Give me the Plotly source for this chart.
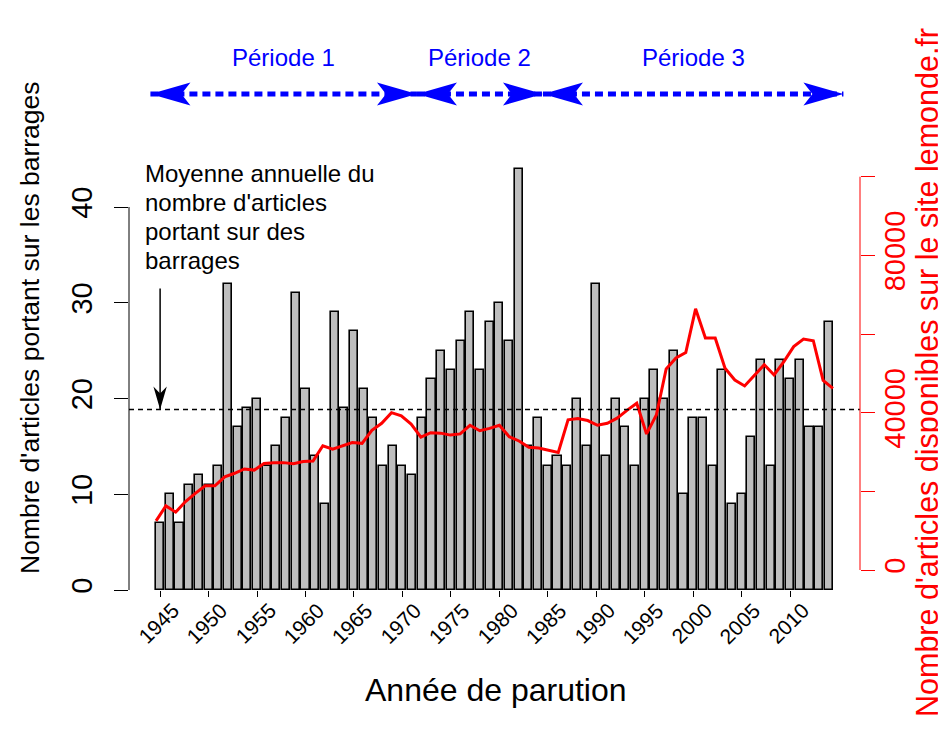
import numpy as np
import plotly.graph_objects as go

# ---------------- data ----------------
years = list(range(1945, 2015))
articles_barrages = [7, 10, 7, 11, 12, 11, 13, 32, 17, 19,
                     20, 13, 15, 18, 31, 21, 14, 9, 29, 19,
                     27, 21, 18, 13, 15, 13, 12, 18, 22, 25,
                     23, 26, 29, 23, 28, 30, 26, 44, 15, 18,
                     13, 14, 13, 20, 15, 32, 14, 20, 17, 13,
                     20, 23, 20, 25, 10, 18, 18, 13, 23, 9,
                     10, 16, 24, 13, 24, 22, 24, 17, 17, 28]
articles_lemonde = [12500, 16300, 14700, 17400, 19500, 21400, 21400, 23700, 24600, 25700,
                    25400, 27100, 27300, 27300, 27000, 27600, 27700, 31600, 30700, 31600,
                    32400, 32200, 35500, 37300, 40000, 39200, 37100, 33800, 34900, 34800,
                    34300, 34600, 36800, 35400, 36000, 36800, 33900, 32800, 31200, 31000,
                    30500, 29900, 38200, 38500, 38000, 36800, 37300, 38600, 40600, 42400,
                    34600, 39400, 51100, 53900, 55300, 66400, 59000, 59000, 51300, 48300,
                    46800, 49600, 52200, 49600, 53000, 56800, 58700, 58300, 48200, 46200]
xtick_years = list(range(1945, 2011, 5))
ytick_left = [0, 10, 20, 30, 40]
ytick_right = [0, 20000, 40000, 60000, 80000, 100000]
ytick_right_labels = ["0", "", "40000", "", "80000", ""]
period_labels = ["Période 1", "Période 2", "Période 3"]
period_start = [1944, 1971.5, 1984.5]
period_end = [1971.5, 1984.5, 2015.5]
note_lines = ["Moyenne annuelle du", "nombre d'articles", "portant sur des", "barrages"]
arrow_from = 31.5
mean_val = float(np.mean(articles_barrages))

FONT = "Liberation Sans, Arial, sans-serif"
OFF = 8  # page body margin
W, H = 946 - OFF, 731 - OFF
PL, PR, PT, PB = 129, 860, 152, 590          # plot region in page pixels
ML, MT = PL - OFF, PT - OFF
MR, MB = W - (PR - OFF), H - (PB - OFF)
PW, PH = PR - PL, PB - PT


def px_x(p):
    return (p - PL) / PW


def px_y(p):
    return (PB - p) / PH


# R-like axis ranges (barplot with space 0.2, 4% padding)
bw = 1 / 1.2
span_b = (years[-1] - years[0]) + bw
xr_bar = [years[0] - bw / 2 - 0.04 * span_b, years[-1] + bw / 2 + 0.04 * span_b]
span_l = years[-1] - years[0]
xr_line = [years[0] - 0.04 * span_l, years[-1] + 0.04 * span_l]

fig = go.Figure()
fig.add_trace(go.Bar(x=years, y=articles_barrages, width=bw,
                     marker=dict(color="#BEBEBE", line=dict(color="black", width=1.6)),
                     xaxis="x", yaxis="y", showlegend=False))
fig.add_trace(go.Scatter(x=years, y=articles_lemonde, mode="lines",
                         line=dict(color="#FF0000", width=3),
                         xaxis="x2", yaxis="y2", showlegend=False))

shapes = []
shapes.append(dict(type="line", xref="paper", x0=0, x1=1, yref="y", y0=mean_val, y1=mean_val,
                   line=dict(color="black", width=1.5, dash="5px,4px"), layer="above"))
shapes.append(dict(type="line", xref="paper", x0=0, x1=0, yref="y", y0=ytick_left[0], y1=ytick_left[-1],
                   line=dict(color="black", width=1)))
shapes.append(dict(type="line", xref="paper", x0=1, x1=1, yref="y2", y0=ytick_right[0], y1=ytick_right[-1],
                   line=dict(color="#FF0000", width=1)))
shapes.append(dict(type="line", xref="x", x0=years[0], x1=years[0], yref="y", y0=arrow_from, y1=mean_val,
                   line=dict(color="black", width=1.5)))
shapes.append(dict(type="path", xref="x", xsizemode="pixel", xanchor=years[0],
                   yref="y", ysizemode="pixel", yanchor=mean_val,
                   path="M0,0 L-6.7,23 L0,16 L6.7,23 Z", fillcolor="black", line=dict(width=0)))

arrow_y = px_y(94)
for s, e in zip(period_start, period_end):
    shapes.append(dict(type="line", xref="x", x0=s, x1=e, yref="paper", y0=arrow_y, y1=arrow_y,
                       line=dict(color="#0000FF", width=5, dash="8px,5px")))
    shapes.append(dict(type="path", xref="x", xsizemode="pixel", xanchor=s,
                       yref="paper", ysizemode="pixel", yanchor=arrow_y,
                       path="M0,0 L40,11.5 L31,0 L40,-11.5 Z", fillcolor="#0000FF", line=dict(width=0)))
    shapes.append(dict(type="path", xref="x", xsizemode="pixel", xanchor=e,
                       yref="paper", ysizemode="pixel", yanchor=arrow_y,
                       path="M0,0 L-40,11.5 L-31,0 L-40,-11.5 Z", fillcolor="#0000FF", line=dict(width=0)))

annotations = []
for lab, s, e in zip(period_labels, period_start, period_end):
    annotations.append(dict(text=lab, xref="x", x=(s + e) / 2, yref="paper", y=px_y(57),
                            showarrow=False, font=dict(family=FONT, size=24, color="#0000FF"),
                            xanchor="center", yanchor="middle"))
for yr in xtick_years:
    annotations.append(dict(text=str(yr), xref="x", x=yr, yref="paper", y=px_y(623),
                            xanchor="center", yanchor="middle", xshift=-2, textangle=-45,
                            showarrow=False, font=dict(family=FONT, size=21, color="black")))
for k, line in enumerate(note_lines):
    annotations.append(dict(text=line, xref="paper", x=px_x(143), yref="paper", y=px_y(173 + 29 * k),
                            xanchor="left", yanchor="middle", showarrow=False,
                            font=dict(family=FONT, size=24, color="black")))
annotations.append(dict(text="Nombre d'articles portant sur les barrages", textangle=-90,
                        xref="paper", x=px_x(30), yref="paper", y=px_y(328),
                        xanchor="center", yanchor="middle", showarrow=False,
                        font=dict(family=FONT, size=26.5, color="black")))
annotations.append(dict(text="Nombre d'articles disponibles sur le site lemonde.fr", textangle=-90,
                        xref="paper", x=px_x(927), yref="paper", y=px_y(372),
                        xanchor="center", yanchor="middle", showarrow=False,
                        font=dict(family=FONT, size=30.5, color="#FF0000")))
annotations.append(dict(text="Année de parution",
                        xref="paper", x=px_x(496), yref="paper", y=px_y(690),
                        xanchor="center", yanchor="middle", showarrow=False,
                        font=dict(family=FONT, size=32, color="black")))

fig.update_layout(
    width=W, height=H,
    margin=dict(l=ML, r=MR, t=MT, b=MB, pad=0),
    paper_bgcolor="white", plot_bgcolor="white",
    font=dict(family=FONT, color="black"),
    showlegend=False,
    bargap=0,
    xaxis=dict(range=xr_bar, tickmode="array", tickvals=xtick_years, showticklabels=False,
               ticks="outside", ticklen=6, tickwidth=1, tickcolor="black",
               showline=False, showgrid=False, zeroline=False),
    xaxis2=dict(range=xr_line, overlaying="x", visible=False, showgrid=False, zeroline=False),
    yaxis=dict(range=[0, (PB - PT) / 9.575], tickmode="array", tickvals=ytick_left,
               ticktext=[str(v) for v in ytick_left], tickangle=-90,
               ticks="outside", ticklen=14, tickwidth=1, tickcolor="black",
               ticklabelstandoff=10,
               tickfont=dict(family=FONT, size=29, color="black"),
               showline=False, showgrid=False, zeroline=False),
    yaxis2=dict(range=[-(PB - 570) / 3.933 * 1000, (570 - PT) / 3.933 * 1000],
                overlaying="y", side="right", anchor="x", tickmode="array",
                tickvals=ytick_right, ticktext=ytick_right_labels, tickangle=-90,
                ticks="outside", ticklen=14, tickwidth=1, tickcolor="#FF0000",
                ticklabelstandoff=-5,
                tickfont=dict(family=FONT, size=29, color="#FF0000"),
                showline=False, showgrid=False, zeroline=False),
    shapes=shapes,
    annotations=annotations,
)

fig.write_html("out.html")
